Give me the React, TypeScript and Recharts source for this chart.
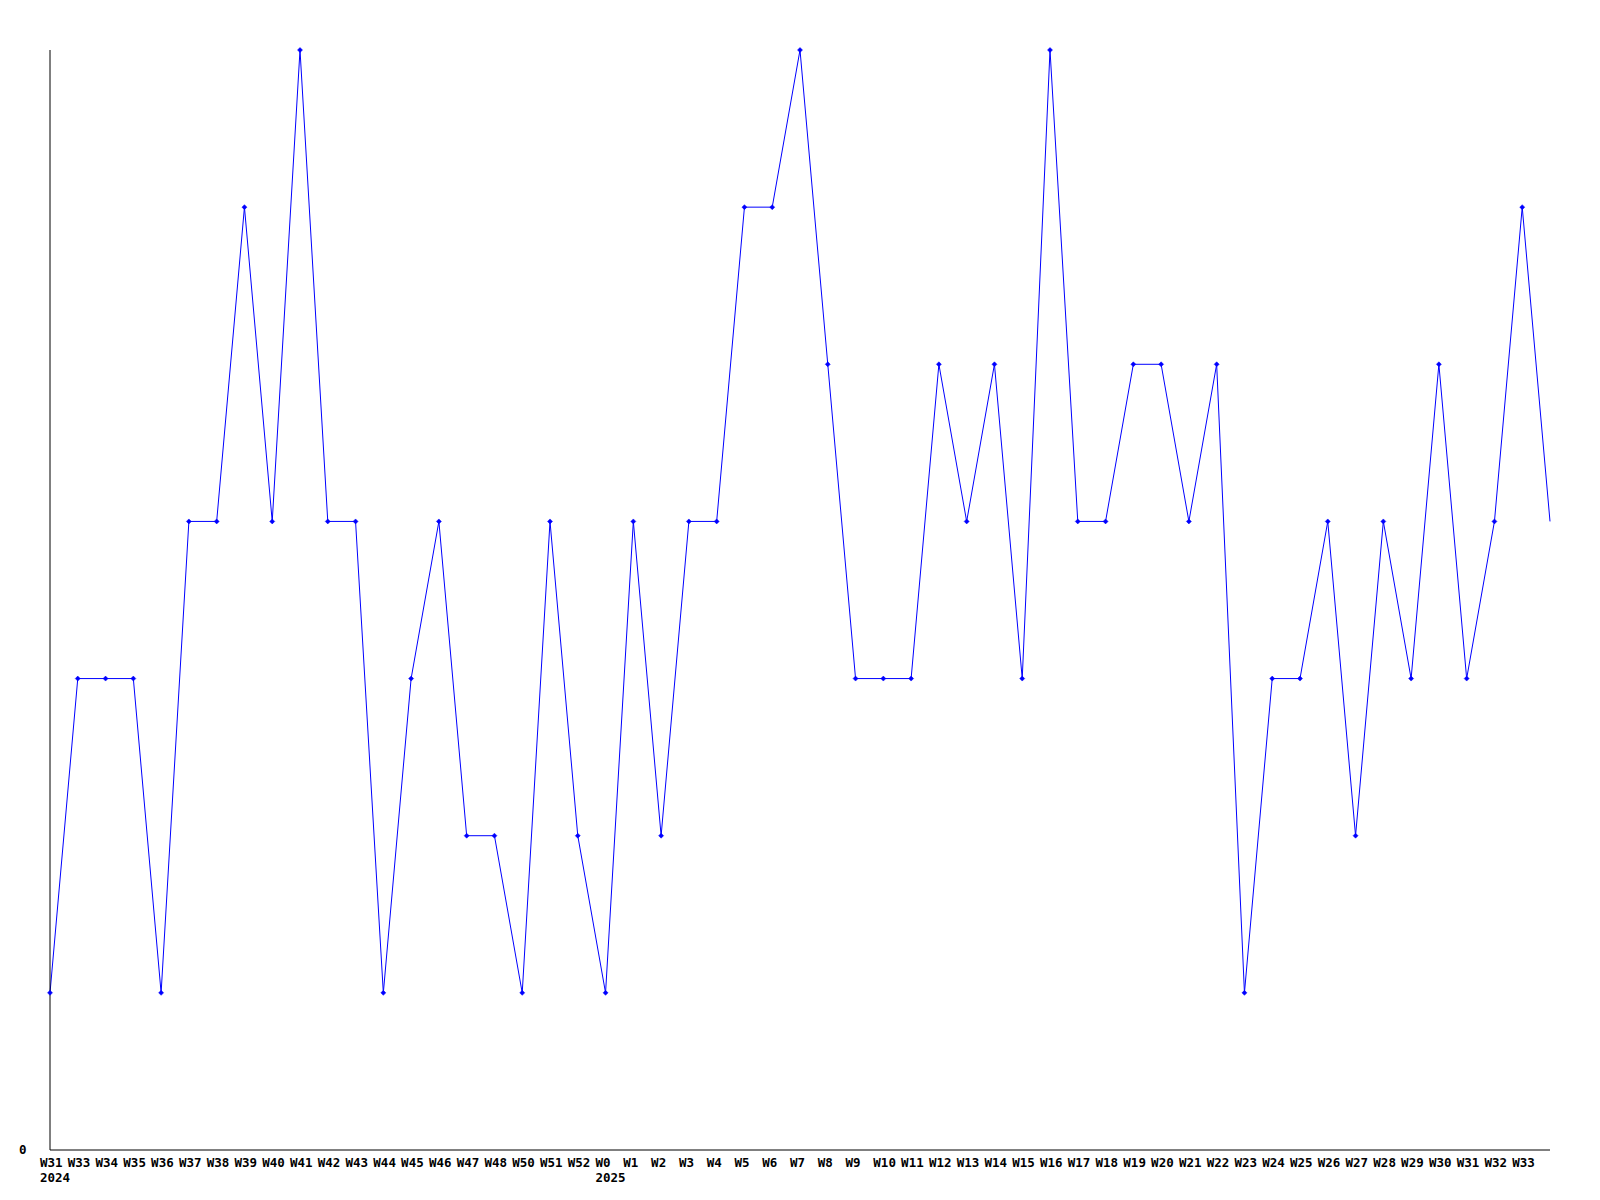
import { LineChart, Line, XAxis, YAxis } from 'recharts';

const weekLabels = [
  'W31', 'W33', 'W34', 'W35', 'W36', 'W37', 'W38', 'W39', 'W40', 'W41',
  'W42', 'W43', 'W44', 'W45', 'W46', 'W47', 'W48', 'W50', 'W51', 'W52',
  'W0', 'W1', 'W2', 'W3', 'W4', 'W5', 'W6', 'W7', 'W8', 'W9',
  'W10', 'W11', 'W12', 'W13', 'W14', 'W15', 'W16', 'W17', 'W18', 'W19',
  'W20', 'W21', 'W22', 'W23', 'W24', 'W25', 'W26', 'W27', 'W28', 'W29',
  'W30', 'W31', 'W32', 'W33', '',
];

const yearLabels = ['2024', '', '', '', '', '', '', '', '', '', '', '', '', '', '', '', '', '', '', '', '2025'];

const values = [
  1, 3, 3, 3, 1, 4, 4, 6, 4, 7,
  4, 4, 1, 3, 4, 2, 2, 1, 4, 2,
  1, 4, 2, 4, 4, 6, 6, 7, 5, 3,
  3, 3, 5, 4, 5, 3, 7, 4, 4, 5,
  5, 4, 5, 1, 3, 3, 4, 2, 4, 3,
  5, 3, 4, 6, 4,
];

const data = values.map((v, i) => ({ i, v }));
const xTicks = weekLabels.map((_, i) => i).filter((i) => weekLabels[i] !== '');

const font = '"DejaVu Sans Mono", monospace';

const WeekTick = (props: any) => {
  const { x, y, payload } = props;
  const idx = payload.value as number;
  return (
    <g>
      <text x={x - 10} y={y + 17} fontFamily={font} fontWeight="bold" fontSize={12.5} fill="#000">
        {weekLabels[idx]}
      </text>
      {yearLabels[idx] ? (
        <text x={x - 10} y={y + 32} fontFamily={font} fontWeight="bold" fontSize={12.5} fill="#000">
          {yearLabels[idx]}
        </text>
      ) : null}
    </g>
  );
};

const ZeroTick = (props: any) => {
  const { y, payload } = props;
  return (
    <text x={19} y={y + 4} fontFamily={font} fontWeight="bold" fontSize={12.5} fill="#000">
      {payload.value}
    </text>
  );
};

const Marker = (props: any) => {
  const { cx, cy, index } = props;
  if (index === values.length - 1) return <g key={index} />;
  return (
    <path
      key={index}
      d={`M${cx - 2.5},${cy} L${cx},${cy - 2.5} L${cx + 2.5},${cy} L${cx},${cy + 2.5} Z`}
      fill="#0000ff"
      stroke="#0000ff"
      strokeWidth={0.5}
    />
  );
};

export default function App() {
  return (
    <div style={{ position: 'absolute', left: 0, top: 0, width: 1600, height: 1200, background: '#fff' }}>
      <LineChart width={1600} height={1200} data={data} margin={{ top: 50, right: 50, bottom: 0, left: 0 }}>
        <XAxis
          dataKey="i"
          type="number"
          domain={[0, values.length - 1]}
          ticks={xTicks}
          interval={0}
          height={50}
          tickLine={false}
          tickSize={0}
          tickMargin={0}
          axisLine={{ stroke: '#000', strokeWidth: 1 }}
          tick={<WeekTick />}
        />
        <YAxis
          type="number"
          domain={[0, 7]}
          ticks={[0]}
          width={50}
          tickLine={false}
          axisLine={{ stroke: '#000', strokeWidth: 1 }}
          tick={<ZeroTick />}
        />
        <Line
          type="linear"
          dataKey="v"
          stroke="#0000ff"
          strokeWidth={1}
          dot={<Marker />}
          activeDot={false}
          isAnimationActive={false}
        />
      </LineChart>
    </div>
  );
}
